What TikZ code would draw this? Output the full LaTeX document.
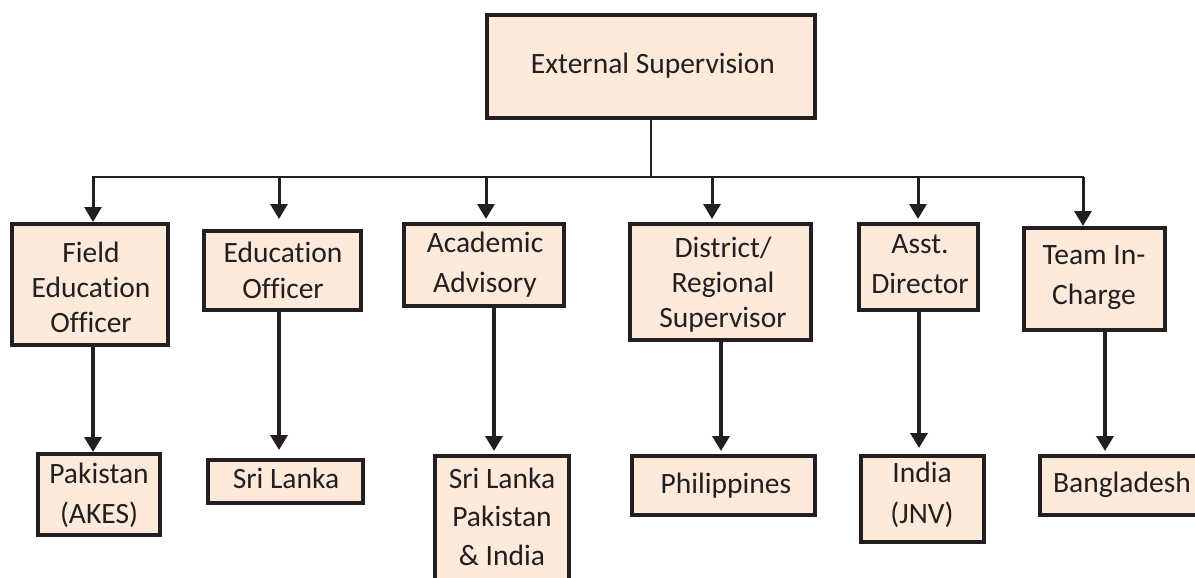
\documentclass[tikz,border=0pt]{standalone}
\usepackage{fontspec}
\setmainfont{Carlito}[Ligatures=NoCommon]
\usetikzlibrary{arrows.meta}
\definecolor{boxfill}{RGB}{253,234,218}
\definecolor{ink}{RGB}{35,31,32}
\newcommand\mlines[1]{\begin{tabular}[t]{@{}c@{}}#1\end{tabular}}
\begin{document}
\begin{tikzpicture}[x=1pt,y=-1pt,
  box/.style={draw=ink, fill=boxfill, line width=4pt, inner sep=0pt},
  lbl/.style={anchor=base, inner sep=0pt, text=ink, font=\fontsize{29.5}{38}\selectfont},
  bus/.style={draw=ink, line width=2.5pt},
  arr/.style={draw=ink, line width=3pt, -{Triangle[width=17pt,length=15pt]}},
  arrb/.style={draw=ink, line width=3.5pt, -{Triangle[width=17pt,length=15pt]}}
]
\clip (0,0) rectangle (1195,578);
\fill[white] (0,0) rectangle (1195,578);

% boxes
\node[box, minimum width=328pt, minimum height=103pt] (top) at (651,66.5) {};
\node[box, minimum width=156pt, minimum height=121pt] (fe) at (90,284.5) {};
\node[box, minimum width=157pt, minimum height=79pt] (eo) at (282.5,270.5) {};
\node[box, minimum width=160pt, minimum height=82pt] (aa) at (484,265) {};
\node[box, minimum width=181pt, minimum height=116pt] (dr) at (720.5,282) {};
\node[box, minimum width=119pt, minimum height=86pt] (ad) at (918.5,267) {};
\node[box, minimum width=141pt, minimum height=102pt] (tc) at (1094.5,279) {};
\node[box, minimum width=122pt, minimum height=81pt] (pk) at (99,494.5) {};
\node[box, minimum width=155pt, minimum height=43pt] (sl) at (285.5,481.5) {};
\node[box, minimum width=134pt, minimum height=142pt] (sp) at (502,527) {};
\node[box, minimum width=183pt, minimum height=59pt] (ph) at (723.5,485.5) {};
\node[box, minimum width=123pt, minimum height=86pt] (in) at (922.5,499) {};
\node[box, minimum width=173pt, minimum height=59pt] (bd) at (1126.5,485.5) {};

% labels
\node[lbl] (ttop) at (653,74) {External Supervision};
\node[lbl, font=\fontsize{29.5}{35}\selectfont] (tfe) at (91,262) {\mlines{Field\\Education\\Officer}};
\node[lbl, font=\fontsize{29.5}{36}\selectfont] (teo) at (283,262) {\mlines{Education\\Officer}};
\node[lbl, font=\fontsize{29.5}{40}\selectfont] (taa) at (485,252) {\mlines{Academic\\Advisory}};
\node[lbl, font=\fontsize{29.5}{35}\selectfont] (tdr) at (723,257) {\mlines{District/\\Regional\\Supervisor}};
\node[lbl, font=\fontsize{29.5}{40}\selectfont] (tad) at (920,253) {\mlines{Asst.\\Director}};
\node[lbl, font=\fontsize{29.5}{40}\selectfont] (ttc) at (1094,264) {\mlines{Team In-\\Charge}};
\node[lbl, font=\fontsize{29.5}{40}\selectfont] (tpk) at (99,483) {\mlines{Pakistan\\(AKES)}};
\node[lbl] (tsl) at (286,488) {Sri Lanka};
\node[lbl, font=\fontsize{29.5}{38.5}\selectfont] (tsp) at (502,488) {\mlines{Sri Lanka\\Pakistan\\\& India}};
\node[lbl] (tph) at (726,493) {Philippines};
\node[lbl, font=\fontsize{29.5}{41}\selectfont] (tin) at (922,482) {\mlines{India\\(JNV)}};
\node[lbl] (tbd) at (1122,492) {Bangladesh};

% bus
\coordinate (j) at (651,177);
\coordinate (b1) at (93,177);
\coordinate (b2) at (279,177);
\coordinate (b3) at (486,177);
\coordinate (b4) at (712,177);
\coordinate (b5) at (918,177);
\coordinate (b6) at (1083,177);
\draw[bus] (top.south) -- (j);
\draw[bus, line cap=rect] (b1) -- (b6);

\draw[arr] (b1) -- (b1 |- fe.north);
\draw[arr, shorten >=10pt] (b2) -- (b2 |- eo.north);
\draw[arr, shorten >=3pt] (b3) -- (b3 |- aa.north);
\draw[arr, shorten >=3pt] (b4) -- (b4 |- dr.north);
\draw[arr, shorten >=3pt] (b5) -- (b5 |- ad.north);
\draw[arr] (b6) -- (b6 |- tc.north);

% second level
\coordinate (d1) at (93,0);
\coordinate (d2) at (279,0);
\coordinate (d3) at (494,0);
\coordinate (d4) at (721,0);
\coordinate (d5) at (919,0);
\coordinate (d6) at (1105,0);
\draw[arrb] (d1 |- fe.south) -- (d1 |- pk.north);
\draw[arrb, shorten >=8pt] (d2 |- eo.south) -- (d2 |- sl.north);
\draw[arrb, shorten >=3pt] (d3 |- aa.south) -- (d3 |- sp.north);
\draw[arrb, shorten >=3pt] (d4 |- dr.south) -- (d4 |- ph.north);
\draw[arrb, shorten >=6pt] (d5 |- ad.south) -- (d5 |- in.north);
\draw[arrb, shorten >=3pt] (d6 |- tc.south) -- (d6 |- bd.north);
\end{tikzpicture}
\end{document}
